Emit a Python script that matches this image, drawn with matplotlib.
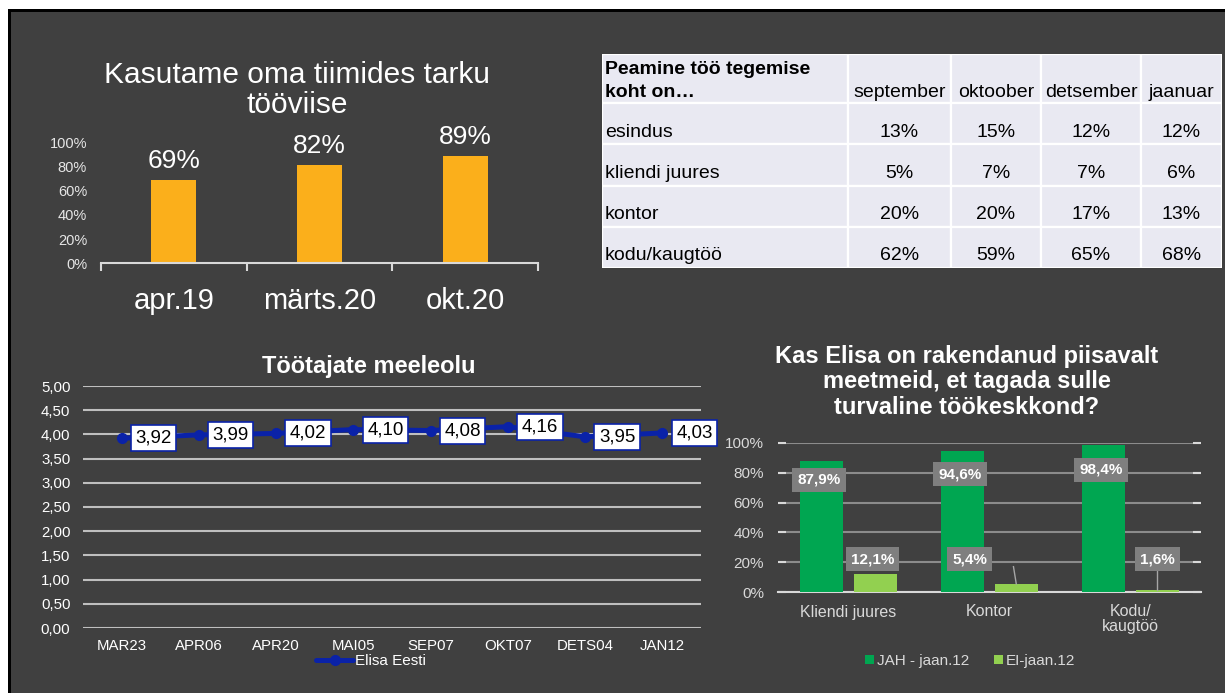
import matplotlib
matplotlib.use('Agg')
import matplotlib.pyplot as plt
import numpy as np
from matplotlib.patches import Rectangle

plt.rcParams['font.family'] = ['Liberation Sans', 'DejaVu Sans']

# ---------------- data ----------------
tw_title = 'Kasutame oma tiimides tarku\ntööviise'
tw_cats = ['apr.19', 'märts.20', 'okt.20']
tw_vals = [0.69, 0.82, 0.89]

tab_header = 'Peamine töö tegemise\nkoht on…'
tab_cols = ['september', 'oktoober', 'detsember', 'jaanuar']
tab_rows = ['esindus', 'kliendi juures', 'kontor', 'kodu/kaugtöö']
tab_esindus = [13, 15, 12, 12]
tab_kliendi = [5, 7, 7, 6]
tab_kontor = [20, 20, 17, 13]
tab_kodu = [62, 59, 65, 68]

mood_title = 'Töötajate meeleolu'
mood_cats = ['MAR23', 'APR06', 'APR20', 'MAI05', 'SEP07', 'OKT07', 'DETS04', 'JAN12']
mood_vals = [3.92, 3.99, 4.02, 4.10, 4.08, 4.16, 3.95, 4.03]
mood_series = 'Elisa Eesti'

safe_title = 'Kas Elisa on rakendanud piisavalt\nmeetmeid, et tagada sulle\nturvaline töökeskkond?'
safe_cats = ['Kliendi juures', 'Kontor', 'Kodu/\nkaugtöö']
safe_jah = [87.9, 94.6, 98.4]
safe_ei = [12.1, 5.4, 1.6]
safe_names = ['JAH - jaan.12', 'EI-jaan.12']

# ---------------- layout ----------------
W, H = 1225, 693
BG = '#404040'
fig = plt.figure(figsize=(W / 100, H / 100), dpi=100, facecolor='white')


def rect(l, t, r, b):
    return [l / W, 1 - b / H, (r - l) / W, (b - t) / H]


bg = fig.add_axes([0, 0, 1, 1], zorder=-10)
bg.set_xlim(0, W)
bg.set_ylim(H, 0)
bg.axis('off')
bg.add_patch(Rectangle((8, 9), W, H, facecolor='black', edgecolor='none'))
bg.add_patch(Rectangle((11, 12), W, H, facecolor=BG, edgecolor='none'))

# ---------------- chart 1: bars ----------------
ax1 = fig.add_axes(rect(101, 143, 538, 263))
ax1.set_facecolor('none')
x1 = np.arange(len(tw_cats))
b1 = ax1.bar(x1, tw_vals, width=0.31, color='#FBAF1B')
ax1.set_xlim(-0.5, len(tw_cats) - 0.5)
ax1.set_ylim(0, 1)
for s in ['top', 'right', 'left']:
    ax1.spines[s].set_visible(False)
ax1.spines['bottom'].set_color('#D9D9D9')
ax1.spines['bottom'].set_linewidth(1.5)
yt = np.linspace(0, 1, 6)
ax1.set_yticks(yt)
ax1.set_yticklabels([f'{int(round(v * 100))}%' for v in yt])
ax1.tick_params(axis='y', length=0, labelsize=10.5, labelcolor='#E6E6E6', pad=10)
ax1.set_xticks(x1)
ax1.set_xticklabels(tw_cats)
ax1.set_xticks(np.arange(-0.5, len(tw_cats)), minor=True)
ax1.tick_params(axis='x', which='major', length=0, labelsize=21, labelcolor='white', pad=17)
ax1.tick_params(axis='x', which='minor', length=6, width=1.5, color='#D9D9D9', direction='out')
ax1.bar_label(b1, labels=[f'{int(round(v * 100))}%' for v in tw_vals],
              padding=5, color='white', fontsize=19)
fig.text(297 / W, 1 - 90 / H, tw_title, ha='center', va='center', fontsize=21.5,
         color='white', linespacing=1.1)

# ---------------- chart 2: table ----------------
col_w = [246, 103, 90, 100, 81]
row_h = [49, 41, 41, 41, 41]
axt = fig.add_axes(rect(602, 54, 1222, 268))
axt.set_xlim(0, sum(col_w))
axt.set_ylim(sum(row_h), 0)
axt.axis('off')
xs = np.concatenate([[0], np.cumsum(col_w)])
ys = np.concatenate([[0], np.cumsum(row_h)])
table_vals = [tab_esindus, tab_kliendi, tab_kontor, tab_kodu]
for r in range(len(row_h)):
    for c in range(len(col_w)):
        axt.add_patch(Rectangle((xs[c], ys[r]), col_w[c], row_h[r],
                                facecolor='#E9E9F2', edgecolor='white', lw=1.6))
# header
axt.text(3, ys[0] + 27, tab_header, ha='left', va='center', fontsize=14,
         fontweight='bold', color='black', linespacing=1.5)
for c, name in enumerate(tab_cols):
    axt.text((xs[c + 1] + xs[c + 2]) / 2, ys[1] - 11, name, ha='center', va='center',
             fontsize=14, color='black')
for r, name in enumerate(tab_rows):
    yc = ys[r + 2] - 12
    axt.text(3, yc, name, ha='left', va='center', fontsize=14, color='black')
    for c, v in enumerate(table_vals[r]):
        axt.text((xs[c + 1] + xs[c + 2]) / 2, yc, f'{v}%', ha='center', va='center',
                 fontsize=14, color='black')

# ---------------- chart 3: line ----------------
LINE = '#0A22A8'
ax3 = fig.add_axes(rect(83, 386, 701, 628))
ax3.set_facecolor('none')
x3 = np.arange(len(mood_cats))
ax3.plot(x3, mood_vals, color=LINE, lw=3.6, marker='o', ms=7, label=mood_series,
         solid_capstyle='round')
ax3.set_xlim(-0.5, len(mood_cats) - 0.5)
ax3.set_ylim(0, 5)
yt3 = np.arange(0, 5.01, 0.5)
ax3.set_yticks(yt3)
ax3.set_yticklabels([f'{v:.2f}'.replace('.', ',') for v in yt3])
ax3.set_xticks(x3)
ax3.set_xticklabels(mood_cats)
ax3.tick_params(axis='both', length=0, labelsize=10.8, labelcolor='white')
ax3.tick_params(axis='y', pad=9)
ax3.tick_params(axis='x', pad=8)
for s in ax3.spines.values():
    s.set_visible(False)
ax3.grid(axis='y', color='#BFBFBF', lw=1.5)
ax3.set_axisbelow(True)
for i, v in enumerate(mood_vals):
    ax3.annotate(f'{v:.2f}'.replace('.', ','), (i, v), xytext=(23, 0),
                 textcoords='offset points', ha='center', va='center', fontsize=13.5,
                 color='black', zorder=5,
                 bbox=dict(boxstyle='square,pad=0.24', fc='white', ec=LINE, lw=1.2))
ax3.legend(loc='center', bbox_to_anchor=(371 / W, 1 - 661 / H),
           bbox_transform=fig.transFigure, frameon=False, fontsize=11,
           labelcolor='white', handlelength=2.4, handletextpad=0.1)
fig.text(369 / W, 1 - 367 / H, mood_title, ha='center', va='center', fontsize=17,
         fontweight='bold', color='white')

# ---------------- chart 4: grouped bars ----------------
GJ = '#00A651'
GE = '#92D050'
ax4 = fig.add_axes(rect(778, 443, 1201, 592))
ax4.set_facecolor('none')
x4 = np.arange(len(safe_cats))
off, bw = 0.19, 0.305
bj = ax4.bar(x4 - off, safe_jah, bw, color=GJ, label=safe_names[0], zorder=3)
be = ax4.bar(x4 + off, safe_ei, bw, color=GE, label=safe_names[1], zorder=3)
ax4.set_xlim(-0.5, len(safe_cats) - 0.5)
ax4.set_ylim(0, 100)
yt4 = np.arange(0, 101, 20)
ax4.set_yticks(yt4)
ax4.set_yticklabels([f'{v}%' for v in yt4])
ax4.tick_params(axis='y', left=True, right=True, direction='in', length=6, width=1.5,
                color='#D9D9D9', labelsize=11, labelcolor='#D9D9D9', pad=10)
ax4.set_xticks(x4)
ax4.set_xticklabels(safe_cats, linespacing=1.0)
ax4.tick_params(axis='x', length=0, labelsize=11.5, labelcolor='#D9D9D9', pad=9)
for s in ['top', 'left', 'right']:
    ax4.spines[s].set_visible(False)
ax4.spines['bottom'].set_color('#D9D9D9')
ax4.spines['bottom'].set_linewidth(1.5)
ax4.grid(axis='y', color='#8C8C8C', lw=1.5)
ax4.set_axisbelow(True)

lbl_box = dict(boxstyle='square,pad=0.33', fc='#7F7F7F', ec='none')
jah_lbl_shift = [-12.5, -15.5, -16.5]
ei_lbl_y = 22
ei_lbl_dx = [-0.02, -0.33, 0.0]
for i, v in enumerate(safe_jah):
    ax4.text(i - off - 0.02, v + jah_lbl_shift[i], f'{v:.1f}%'.replace('.', ','),
             ha='center', va='center', fontsize=11, fontweight='bold', color='white',
             bbox=lbl_box, zorder=6)
for i, v in enumerate(safe_ei):
    lx = i + off + ei_lbl_dx[i]
    if v < 10:
        ax4.plot([i + off - 0.02 if ei_lbl_dx[i] < -0.1 else i + off, i + off],
                 [ei_lbl_y - 5, v], color='#A6A6A6', lw=1, zorder=4)
    ax4.text(lx, ei_lbl_y, f'{v:.1f}%'.replace('.', ','), ha='center', va='center',
             fontsize=11, fontweight='bold', color='white', bbox=lbl_box, zorder=6)

ax4.legend(handles=[bj, be], loc='center', bbox_to_anchor=(970 / W, 1 - 661 / H),
           bbox_transform=fig.transFigure, frameon=False, ncol=2, fontsize=11,
           labelcolor='#D9D9D9', handlelength=0.6, handleheight=0.6,
           handletextpad=0.2, columnspacing=1.6)
fig.text(967 / W, 1 - 382 / H, safe_title, ha='center', va='center', fontsize=17,
         fontweight='bold', color='white', linespacing=1.12)

fig.savefig('out.png', dpi=100, facecolor=fig.get_facecolor())
